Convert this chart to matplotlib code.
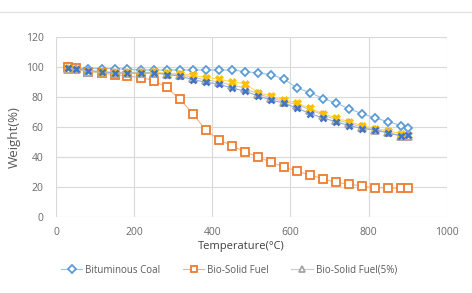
import matplotlib
matplotlib.use("Agg")
import matplotlib.pyplot as plt
from matplotlib.lines import Line2D

plt.rcParams['font.family'] = ['Open Sans', 'DejaVu Sans']

temps = [30, 50, 83, 117, 150, 183, 217, 250, 283, 317, 350, 383, 417, 450,
         483, 517, 550, 583, 617, 650, 683, 717, 750, 783, 817, 850, 883, 900]

coal = [100, 99, 99, 99, 99, 98.5, 98, 98, 98, 98, 98, 98, 98, 98,
        97, 96, 95, 92, 86, 83, 79, 76, 72, 69, 66, 63.5, 61, 59.5]
bsf = [100, 99.5, 97, 96, 95, 94, 93, 91, 86.5, 78.5, 69, 58, 51.5, 47.5,
       43.5, 40, 36.5, 33.5, 30.5, 28, 25.5, 23, 22, 20.5, 19.5, 19.5, 19, 19]
bsf5 = [99, 98.5, 97, 96.5, 96, 96, 96, 96, 95.5, 95, 93, 91.5, 90, 88,
        86, 82, 79.5, 77, 75, 71.5, 68, 65, 62.5, 60, 58, 56.5, 54, 54]
bsf10 = [99.5, 99, 97.5, 97, 96.5, 96.5, 96.5, 96.5, 96, 95.5, 94.5, 93, 92, 90,
         89, 83, 80.7, 78, 76, 72.5, 69, 66, 63.5, 61, 59, 57.5, 55.5, 55]
bsf15 = [99.5, 99, 97.5, 97, 96, 96, 96, 96, 95, 94, 91.5, 90, 88.5, 86,
         84, 80.7, 78, 76, 72.5, 69, 66, 63.5, 61, 59, 58, 56, 54, 54.5]

labels = ["Bituminous Coal", "Bio-Solid Fuel", "Bio-Solid Fuel(5%)"]

fig = plt.figure(figsize=(4.72, 2.93), dpi=100)
ax = fig.add_axes([0.1186, 0.2594, 0.828, 0.6143])

lw = 0.8
ms = 5.5
h1, = ax.plot(temps, coal, color="#9DC3E6", lw=lw, marker="D", ms=ms-1, mfc="white",
              mec="#5B9BD5", mew=1.3, zorder=3)
h2, = ax.plot(temps, bsf, color="#F4B183", lw=lw, marker="s", ms=ms, mfc="white",
              mec="#ED7D31", mew=1.3, zorder=3)
h3, = ax.plot(temps, bsf5, color="#C9C9C9", lw=lw, marker="^", ms=ms, mfc="white",
              mec="#A5A5A5", mew=1.3, zorder=3)
ax.plot(temps, bsf10, color="#FFD966", lw=lw, marker="X", ms=ms, mfc="#FFC000",
        mec="#FFC000", mew=0.5, zorder=4)
ax.plot(temps, bsf15, color="#8FAADC", lw=lw, marker="x", ms=ms-0.5, mfc="#4472C4",
        mec="#4472C4", mew=1.8, zorder=5)

ax.set_xlim(0, 1000)
ax.set_ylim(0, 120)
ax.set_xticks(range(0, 1001, 200))
ax.set_yticks(range(0, 121, 20))
ax.grid(True, color="#D9D9D9", lw=0.8)
ax.set_axisbelow(True)
for s in ax.spines.values():
    s.set_visible(False)
ax.tick_params(length=0, labelsize=7.5, labelcolor="#6A6A6A")
ax.tick_params(axis="y", pad=9)
ax.tick_params(axis="x", pad=7)
ax.set_xlabel("Temperature(°C)", fontsize=8, color="#404040", labelpad=6)
ax.xaxis.set_label_coords(0.474, -0.135)
ax.set_ylabel("Weight(%)", fontsize=9.5, color="#595959")
ax.yaxis.set_label_coords(-0.09, 0.444)

leg = fig.legend([h1, h2, h3], labels, loc="center", bbox_to_anchor=(0.485, 0.078),
                 ncol=3, frameon=False, fontsize=7, labelcolor="#595959",
                 handlelength=2.2, columnspacing=2.3, handletextpad=0.3,
                 markerscale=0.8)

fig.add_artist(Line2D([0, 1], [1 - 12/293, 1 - 12/293], color="#E3E3E3", lw=1,
                      transform=fig.transFigure))

fig.savefig("out.png", dpi=100)
